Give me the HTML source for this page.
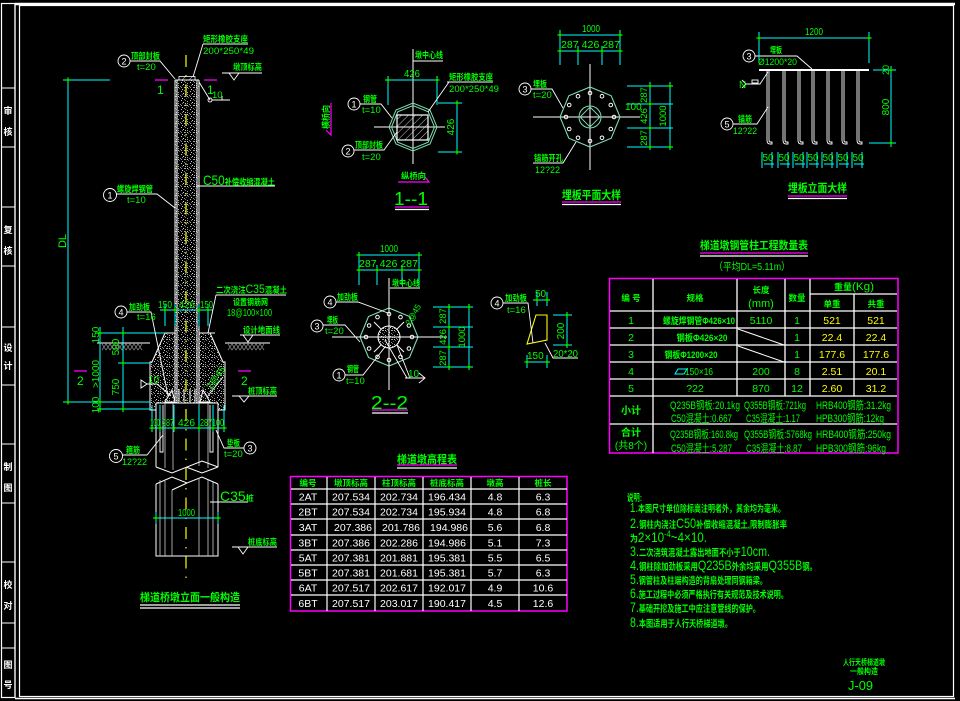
<!DOCTYPE html>
<html><head><meta charset="utf-8"><title>梯道桥墩立面一般构造</title>
<style>
html,body{margin:0;padding:0;background:#000;}
svg{display:block}
text{font-family:"Liberation Sans","Noto Sans CJK SC",sans-serif;}
.g{fill:#00ff00}
.w{fill:#ffffff}
.y{fill:#ffff00}
.b{font-weight:bold}
</style></head><body>
<svg width="960" height="701" viewBox="0 0 960 701" xmlns="http://www.w3.org/2000/svg" xmlns:xlink="http://www.w3.org/1999/xlink">
<defs>
<pattern id="sp" width="9" height="9" patternUnits="userSpaceOnUse">
<rect x="1" y="1" width="1" height="1" fill="#bbb"/>
<rect x="5" y="1" width="1" height="1" fill="#777"/>
<rect x="3" y="3" width="1" height="1" fill="#ddd"/>
<rect x="7" y="4" width="1" height="1" fill="#999"/>
<rect x="0" y="5" width="1" height="1" fill="#888"/>
<rect x="4" y="6" width="2" height="1" fill="#aaa"/>
<rect x="8" y="7" width="1" height="1" fill="#666"/>
<rect x="2" y="8" width="1" height="1" fill="#ccc"/>
<rect x="6" y="8" width="1" height="1" fill="#555"/>
<rect x="7" y="2" width="1" height="1" fill="#aaa"/>
<rect x="2" y="4" width="1" height="1" fill="#777"/>
<rect x="5" y="4" width="1" height="1" fill="#bbb"/>
<rect x="1" y="6" width="1" height="1" fill="#999"/>
<rect x="7" y="6" width="1" height="1" fill="#ccc"/>
<rect x="4" y="0" width="1" height="1" fill="#888"/>
</pattern>
<pattern id="ht" width="5" height="5" patternUnits="userSpaceOnUse" patternTransform="rotate(45)">
<line x1="0" y1="0" x2="0" y2="5" stroke="#fff" stroke-width="0.8"/>
</pattern>
<path id="tk" d="M-2.5 0H2.5M0-2.5V2.5" stroke="#0f0" stroke-width="1.2"/>
</defs>

<!-- ===== FRAME ===== -->
<g stroke="#fff" fill="none">
<rect x="1.5" y="3.5" width="13.5" height="694" stroke-width="1.2"/>
<path d="M1 88H15M1 147H15M1 207H15M1 266H15M1 327H15M1 385H15M1 444H15M1 503H15M1 562H15M1 623H15M1 648H15" stroke-width="1"/>
<path d="M15 4H955" stroke-width="2.5"/>
<path d="M15 3V698" stroke-width="1.2"/>
<rect x="19.5" y="5.5" width="934" height="691" stroke-width="1.2"/>
<path d="M15 698.5H955" stroke-width="1.5"/>
</g>
<g class="w b" font-size="9" text-anchor="middle">
<text x="8" y="114">审</text><text x="8" y="135">核</text>
<text x="8" y="233">复</text><text x="8" y="254">核</text>
<text x="8" y="351">设</text><text x="8" y="369">计</text>
<text x="8" y="470">制</text><text x="8" y="491">图</text>
<text x="8" y="588">校</text><text x="8" y="609">对</text>
<text x="8" y="668">图</text><text x="8" y="688">号</text>
</g>

<!-- ===== PIER ELEVATION ===== -->
<path d="M97 343H150M225 343H270" stroke="#fff" stroke-width="1"/>
<path d="M102 344l4 6l4-6l4 6l4-6l4 6l4-6l4 6l4-6l4 6l4-6M102 350l4-6l4 6l4-6l4 6l4-6l4 6l4-6l4 6l4-6l4 6M228 344l4 6l4-6l4 6l4-6l4 6l4-6l4 6l4-6l4 6M228 350l4-6l4 6l4-6l4 6l4-6l4 6l4-6l4 6l4-6" stroke="#8a8a8a" fill="none" stroke-width="0.7"/>
<path d="M165 333 L152 362 L150 362 V410 H225 V362 L223 362 L210 333 Z" fill="#000" stroke="none"/>
<path d="M165 333 L152 362 L150 362 V410 H225 V362 L223 362 L210 333 Z" fill="url(#sp)" stroke="#fff" stroke-width="1"/>
<path d="M160 333H215" stroke="#fff" stroke-width="1"/>
<rect x="175" y="80" width="24" height="323" fill="#000"/>
<rect x="175" y="80" width="24" height="323" fill="url(#sp)"/>
<path d="M175 80V403M177 80V403M197 80V403M199 80V403M175 80H199" stroke="#fff" stroke-width="1" fill="none"/>
<rect x="179" y="76.5" width="16" height="3.5" fill="url(#ht)" stroke="#fff" stroke-width="0.8"/>
<path d="M165 402L172 390L175 402ZM200 402L203 390L210 402Z" fill="none" stroke="#fff" stroke-width="1"/>
<path d="M179 389V402M184 389V402M190 389V402M195 389V402" stroke="#fff" stroke-width="1"/>
<rect x="156" y="403" width="62" height="64" fill="#000" stroke="none"/>
<path d="M156 403H218M156 403V467M218 403V467" stroke="#fff" stroke-width="1" fill="none"/>
<path d="M173 403V470M199 403V466M165 403V468M208 403V468" stroke="#ccc" stroke-width="0.8"/>
<path d="M160 405V452H163V405M210 405V452H213V405" stroke="#fff" stroke-width="0.9" fill="none"/>
<path d="M156 467L172 473L202 461L218 467M186 467L202 473L218 467" stroke="#fff" stroke-width="1" fill="none"/>
<path d="M156 484L172 477L187 483L202 477L218 484M172 490L187 483" stroke="#fff" stroke-width="1" fill="none"/>
<path d="M156 484V556H218V484" stroke="#fff" stroke-width="1" fill="none"/>
<path d="M160 480V556M165 481V556M172 490V556M199 478V556M208 480V556M213 482V556" stroke="#ccc" stroke-width="0.8"/>
<path d="M186 55V583" stroke="#ffff00" stroke-width="1.2" stroke-dasharray="12 8 1.5 8"/>
<path d="M155 80H168M204 80H217" stroke="#ff00ff" stroke-width="1.2"/>
<text x="157" y="94" class="g" font-size="12">1</text>
<text x="207" y="94" class="g" font-size="12">1</text>
<path d="M74 371H87M238 371H251" stroke="#ff00ff" stroke-width="1.2"/>
<text x="77" y="385" class="g" font-size="12">2</text>
<text x="241" y="385" class="g" font-size="12">2</text>

<g stroke="#00ffff" stroke-width="1" fill="none">
<path d="M63 80H110M68 80V402M63 402H150M100 327V412M123 327V412M95 333H165M118 363H150M97 409H150"/>
<path d="M160 310H213M165 304V326M175 304V326M199 304V326M208 304V326"/>
<path d="M150 428H226M152 405V432M160 405V432M174 405V432M199 405V432M213 405V432M224 405V432"/>
<path d="M153 518H220M156 512V524M218 512V524"/>
</g>
<g>
<use xlink:href="#tk" x="68" y="80"/><use xlink:href="#tk" x="68" y="402"/>
<use xlink:href="#tk" x="100" y="333"/><use xlink:href="#tk" x="123" y="333"/>
<use xlink:href="#tk" x="100" y="402"/><use xlink:href="#tk" x="123" y="363"/>
<use xlink:href="#tk" x="100" y="409"/><use xlink:href="#tk" x="123" y="409"/>
<use xlink:href="#tk" x="165" y="310"/><use xlink:href="#tk" x="175" y="310"/>
<use xlink:href="#tk" x="199" y="310"/><use xlink:href="#tk" x="208" y="310"/>
<use xlink:href="#tk" x="152" y="428"/><use xlink:href="#tk" x="160" y="428"/>
<use xlink:href="#tk" x="174" y="428"/><use xlink:href="#tk" x="199" y="428"/>
<use xlink:href="#tk" x="213" y="428"/><use xlink:href="#tk" x="224" y="428"/>
<use xlink:href="#tk" x="156" y="518"/><use xlink:href="#tk" x="218" y="518"/>
</g>
<g class="g" font-size="11" text-anchor="middle">
<text transform="translate(66,241) rotate(-90)">DL</text>
<text transform="translate(99,335) rotate(-90)" font-size="10">150</text>
<text transform="translate(119,347) rotate(-90)" font-size="10">500</text>
<text transform="translate(99,374) rotate(-90)" font-size="10">&gt;1000</text>
<text transform="translate(119,387) rotate(-90)" font-size="10">750</text>
<text transform="translate(99,405) rotate(-90)" font-size="10">100</text>
</g>
<g class="g" font-size="10.5">
<text x="158" y="308" textLength="14" lengthAdjust="spacingAndGlyphs">150</text>
<text x="179" y="308" textLength="16" lengthAdjust="spacingAndGlyphs">426</text>
<text x="200" y="308" textLength="13" lengthAdjust="spacingAndGlyphs">150</text>
<text x="150" y="426" textLength="10" lengthAdjust="spacingAndGlyphs">100</text>
<text x="162" y="426" textLength="12" lengthAdjust="spacingAndGlyphs">287</text>
<text x="178" y="426" textLength="17" lengthAdjust="spacingAndGlyphs">426</text>
<text x="200" y="426" textLength="12" lengthAdjust="spacingAndGlyphs">287</text>
<text x="212" y="426" textLength="12" lengthAdjust="spacingAndGlyphs">100</text>
<text x="178" y="516" textLength="17" lengthAdjust="spacingAndGlyphs">1000</text>
</g>
<g stroke="#fff" stroke-width="0.9" fill="none">
<circle cx="124" cy="61" r="6"/>
<path d="M130 61H160L175 79"/>
<path d="M203 44H248M203 44L193 77"/>
<path d="M222 73H262M229 73L234 80L239 73"/>
<circle cx="210" cy="100" r="2"/>
<path d="M210 100L199 82M212 100H230M222 96V100H228"/>
<path d="M197 186H275"/>
<circle cx="110" cy="195" r="6.5"/>
<path d="M116 194H157L175 208"/>
<path d="M216 295H286M216 295L208 333"/>
<circle cx="121" cy="312" r="6"/>
<path d="M127 312H151L168 396"/>
<path d="M240 335H280M243 335L248 342L253 335"/>
<path d="M157 384H147M147 384L141 380V388Z"/>
<path d="M157 384L171 396"/>
<path d="M223 377L207 397"/>
<path d="M232 396H277M239 396L244 402L249 396"/>
<circle cx="116" cy="456" r="6.5"/>
<path d="M122 455H147L163 435"/>
<circle cx="250" cy="448" r="6"/>
<path d="M244 448H224L216 430"/>
<path d="M210 502H248"/>
<path d="M232 547H277M238 547L243 554L248 547"/>
<path d="M140 605H240M140 608H240" stroke-width="1.2"/>
</g>
<g class="w" font-size="9" text-anchor="middle">
<text x="124" y="64.5">2</text>
<text x="110" y="198.5">1</text>
<text x="121" y="315.5">4</text>
<text x="116" y="459.5">5</text>
<text x="250" y="451.5">3</text>
</g>
<g class="g b" font-size="8.5">
<text x="131" y="59" textLength="29" lengthAdjust="spacingAndGlyphs">顶部封板</text>
<text x="137" y="70" font-weight="normal" font-size="9.5">t=20</text>
<text x="203" y="42" textLength="45" lengthAdjust="spacingAndGlyphs">矩形橡胶支座</text>
<text x="203" y="54" font-weight="normal" font-size="9.5" textLength="51" lengthAdjust="spacingAndGlyphs">200*250*49</text>
<text x="233" y="70" textLength="29" lengthAdjust="spacingAndGlyphs">墩顶标高</text>
<text x="212" y="98" font-weight="normal" font-size="9.5">10</text>
<text x="203" y="185" font-weight="normal" textLength="72" lengthAdjust="spacingAndGlyphs"><tspan font-size="14">C50</tspan><tspan font-weight="bold">补偿收缩混凝土</tspan></text>
<text x="117" y="192" textLength="36" lengthAdjust="spacingAndGlyphs">螺旋焊钢管</text>
<text x="127" y="203" font-weight="normal" font-size="9.5">t=10</text>
<text x="216" y="293" textLength="71" lengthAdjust="spacingAndGlyphs">二次浇注<tspan font-weight="normal" font-size="12">C35</tspan>混凝土</text>
<text x="233" y="305" textLength="35" lengthAdjust="spacingAndGlyphs">设置钢筋网</text>
<text x="227" y="316" font-weight="normal" font-size="10" textLength="45" lengthAdjust="spacingAndGlyphs">18@100×100</text>
<text x="129" y="310" textLength="21" lengthAdjust="spacingAndGlyphs">加劲板</text>
<text x="137" y="320" font-weight="normal" font-size="9.5">t=16</text>
<text x="243" y="333" textLength="37" lengthAdjust="spacingAndGlyphs">设计地面线</text>
<text x="148" y="383" font-weight="normal" font-size="10">10</text>
<text transform="translate(211,390) rotate(-55)" font-weight="normal" font-size="9.5">2@45</text>
<text x="248" y="394" textLength="29" lengthAdjust="spacingAndGlyphs">桩顶标高</text>
<text x="126" y="453" textLength="14" lengthAdjust="spacingAndGlyphs">箍筋</text>
<text x="122" y="465" font-weight="normal" font-size="9.5" textLength="25" lengthAdjust="spacingAndGlyphs">12?22</text>
<text x="227" y="446" textLength="13" lengthAdjust="spacingAndGlyphs">垫板</text>
<text x="224" y="457" font-weight="normal" font-size="9.5">t=20</text>
<text x="220" y="501" font-weight="normal"><tspan font-size="14">C35</tspan><tspan font-weight="bold" font-size="8">桩</tspan></text>
<text x="248" y="545" textLength="29" lengthAdjust="spacingAndGlyphs">桩底标高</text>
<text x="140" y="601" font-size="11" textLength="100" lengthAdjust="spacingAndGlyphs">梯道桥墩立面一般构造</text>
</g>

<!-- ===== SECTION 1--1 ===== -->
<path d="M413 49V164M374 127H445" stroke="#fff" stroke-width="1"/>
<polygon points="437,127 430,144 413,151 396,144 389,127 396,110 413,103 430,110" fill="none" stroke="#7fdcb0" stroke-width="1"/>
<polygon points="434.5,127 428.2,142.2 413,148.5 397.8,142.2 391.5,127 397.8,111.8 413,105.5 428.2,111.8" fill="none" stroke="#7fdcb0" stroke-width="1"/>
<rect x="397" y="115" width="31" height="25" fill="url(#ht)" stroke="#fff" stroke-width="1.2"/>
<g stroke="#00ffff" stroke-width="1" fill="none">
<path d="M385 80H438M388 76V105M437 76V105M457 102V152M438 103H462M438 152H462"/>
</g>
<use xlink:href="#tk" x="388" y="80"/><use xlink:href="#tk" x="437" y="80"/>
<use xlink:href="#tk" x="457" y="103"/><use xlink:href="#tk" x="457" y="152"/>
<g stroke="#fff" stroke-width="0.9" fill="none">
<path d="M413 61H443"/>
<path d="M447 82H493M449 82L428 112"/>
<circle cx="354" cy="104" r="6"/>
<path d="M360 104H381L392 118"/>
<circle cx="348" cy="151" r="6"/>
<path d="M354 150H384L397 132"/>
<path d="M395 207H429" stroke="#ff00ff" stroke-width="1.2"/>
<path d="M395 209.5H429" stroke-width="1.2"/>
<path d="M331 103V135L326 130" stroke="#ff00ff" stroke-width="1.2"/>
<path d="M398 182H429L425 177" stroke="#ff00ff" stroke-width="1.2"/>
</g>
<g class="w" font-size="9" text-anchor="middle">
<text x="354" y="107.5">1</text><text x="348" y="154.5">2</text>
</g>
<g class="g b" font-size="8.5">
<text x="415" y="58" textLength="28" lengthAdjust="spacingAndGlyphs">墩中心线</text>
<text x="404" y="77" font-weight="normal" font-size="10" textLength="16" lengthAdjust="spacingAndGlyphs">426</text>
<text x="449" y="80" textLength="44" lengthAdjust="spacingAndGlyphs">矩形橡胶支座</text>
<text x="449" y="92" font-weight="normal" font-size="9.5" textLength="50" lengthAdjust="spacingAndGlyphs">200*250*49</text>
<text x="363" y="102" textLength="14" lengthAdjust="spacingAndGlyphs">钢管</text>
<text x="362" y="113" font-weight="normal" font-size="9.5">t=10</text>
<text x="355" y="148" textLength="28" lengthAdjust="spacingAndGlyphs">顶部封板</text>
<text x="362" y="160" font-weight="normal" font-size="9.5">t=20</text>
<text transform="translate(454,127) rotate(-90)" text-anchor="middle" font-weight="normal" font-size="10">426</text>
<text transform="translate(329,117) rotate(-90)" text-anchor="middle" textLength="24" lengthAdjust="spacingAndGlyphs">横桥向</text>
<text x="401" y="179" textLength="25" lengthAdjust="spacingAndGlyphs">纵桥向</text>
<text x="394" y="205" font-weight="normal" font-size="18" textLength="34" lengthAdjust="spacingAndGlyphs">1--1</text>
</g>

<!-- ===== 埋板平面大样 ===== -->
<path d="M533 117H640M590 64V170" stroke="#fff" stroke-width="1"/>
<polygon points="620,117 611.2,138.2 590,147 568.8,138.2 560,117 568.8,95.8 590,87 611.2,95.8" fill="none" stroke="#7fdcb0" stroke-width="1.1"/>
<circle cx="590" cy="117" r="11" fill="none" stroke="#7fdcb0" stroke-width="1"/>
<polygon points="590,107 600,117 590,127 580,117" fill="none" stroke="#7fdcb0" stroke-width="0.9"/>
<g fill="none" stroke="#fff" stroke-width="1">
<circle cx="614" cy="117" r="1.8"/><circle cx="610.8" cy="129" r="1.8"/><circle cx="602" cy="137.8" r="1.8"/>
<circle cx="590" cy="141" r="1.8"/><circle cx="578" cy="137.8" r="1.8"/><circle cx="569.2" cy="129" r="1.8"/>
<circle cx="566" cy="117" r="1.8"/><circle cx="569.2" cy="105" r="1.8"/><circle cx="578" cy="96.2" r="1.8"/>
<circle cx="590" cy="93" r="1.8"/><circle cx="602" cy="96.2" r="1.8"/><circle cx="610.8" cy="105" r="1.8"/>
</g>
<g stroke="#00ffff" stroke-width="1" fill="none">
<path d="M560 35H622M560 51H621M560 30V65M578 46V65M602 46V65M620 30V65"/>
<path d="M627 86H673M627 104H673M627 128H673M627 147H673M650 82V150M670 82V150"/>
</g>
<use xlink:href="#tk" x="560" y="35"/><use xlink:href="#tk" x="620" y="35"/>
<use xlink:href="#tk" x="560" y="51"/><use xlink:href="#tk" x="578" y="51"/><use xlink:href="#tk" x="602" y="51"/><use xlink:href="#tk" x="620" y="51"/>
<use xlink:href="#tk" x="650" y="86"/><use xlink:href="#tk" x="650" y="104"/><use xlink:href="#tk" x="650" y="128"/><use xlink:href="#tk" x="650" y="147"/>
<use xlink:href="#tk" x="670" y="86"/><use xlink:href="#tk" x="670" y="147"/>
<g stroke="#fff" stroke-width="0.9" fill="none">
<circle cx="525" cy="89" r="6"/>
<path d="M531 89H552L563 108"/>
<path d="M533 163H563L576 142"/>
<path d="M562 202H621" stroke="#ff00ff" stroke-width="1.2"/>
<path d="M562 204.5H621" stroke-width="1.2"/>
</g>
<text x="525" y="92.5" class="w" font-size="9" text-anchor="middle">3</text>
<g class="g b" font-size="8.5">
<text x="582" y="32" font-weight="normal" font-size="10" textLength="18" lengthAdjust="spacingAndGlyphs">1000</text>
<text x="561" y="48" font-weight="normal" font-size="10" textLength="59" lengthAdjust="spacingAndGlyphs">287 426 287</text>
<text x="533" y="87" textLength="14" lengthAdjust="spacingAndGlyphs">埋板</text>
<text x="533" y="98" font-weight="normal" font-size="9.5">t=20</text>
<text x="534" y="161" textLength="29" lengthAdjust="spacingAndGlyphs">锚筋开孔</text>
<text x="535" y="173" font-weight="normal" font-size="9.5" textLength="25" lengthAdjust="spacingAndGlyphs">12?22</text>
<text x="625" y="110" font-weight="normal" font-size="10">100</text>
<text transform="translate(647,95) rotate(-90)" text-anchor="middle" font-weight="normal" font-size="9.5">287</text>
<text transform="translate(647,116) rotate(-90)" text-anchor="middle" font-weight="normal" font-size="9.5">426</text>
<text transform="translate(647,138) rotate(-90)" text-anchor="middle" font-weight="normal" font-size="9.5">287</text>
<text transform="translate(666,116) rotate(-90)" text-anchor="middle" font-weight="normal" font-size="9.5">1000</text>
<text x="562" y="199" font-size="11.5" textLength="59" lengthAdjust="spacingAndGlyphs">埋板平面大样</text>
</g>

<!-- ===== 埋板立面大样 ===== -->
<path d="M759 70H869" stroke="#fff" stroke-width="2"/>
<g stroke="#fff" stroke-width="0.9" fill="none">
<path d="M767 71V140Q767 144 770 144H772V142H770Q769 142 769 140V71"/>
<path d="M783 71V140Q783 144 786 144H788V142H786Q785 142 785 140V71"/>
<path d="M798 71V140Q798 144 801 144H803V142H801Q800 142 800 140V71"/>
<path d="M812 71V140Q812 144 815 144H817V142H815Q814 142 814 140V71"/>
<path d="M827 71V140Q827 144 830 144H832V142H830Q829 142 829 140V71"/>
<path d="M842 71V140Q842 144 845 144H847V142H845Q844 142 844 140V71"/>
<path d="M857 71V140Q857 144 860 144H862V142H860Q859 142 859 140V71"/>
<circle cx="749" cy="56" r="6"/>
<path d="M755 56H797L812 69"/>
<path d="M746 84L742 80M746 84L742 88M746 84H760L768 72"/>
<rect x="752" y="80" width="6" height="3"/>
<circle cx="727" cy="124" r="6"/>
<path d="M733 124H757L768 107"/>
<path d="M788 196H847" stroke="#ff00ff" stroke-width="1.2"/>
<path d="M788 198.5H847" stroke-width="1.2"/>
</g>
<g stroke="#00ffff" stroke-width="1" fill="none">
<path d="M759 38H870M759 32V63M869 32V63M873 70H896M869 143H896M891 66V147"/>
<path d="M764 164H774M762 152V168M772 152V168M780 164H790M778 152V168M788 152V168M795 164H805M793 152V168M803 152V168M809 164H819M807 152V168M817 152V168M824 164H834M822 152V168M832 152V168M839 164H849M837 152V168M847 152V168M854 164H864M852 152V168M862 152V168"/>
</g>
<use xlink:href="#tk" x="759" y="38"/><use xlink:href="#tk" x="869" y="38"/>
<use xlink:href="#tk" x="891" y="70"/><use xlink:href="#tk" x="891" y="143"/>
<g class="w" font-size="9" text-anchor="middle">
<text x="749" y="59.5">3</text><text x="727" y="127.5">5</text>
</g>
<g class="g b" font-size="8.5">
<text x="805" y="35" font-weight="normal" font-size="10" textLength="18" lengthAdjust="spacingAndGlyphs">1200</text>
<text x="770" y="53" textLength="12" lengthAdjust="spacingAndGlyphs">埋板</text>
<text x="758" y="65" font-weight="normal" font-size="9.5" textLength="39" lengthAdjust="spacingAndGlyphs">Ø1200*20</text>
<text x="739" y="88" font-weight="normal" font-size="10">N</text>
<text x="738" y="122" textLength="14" lengthAdjust="spacingAndGlyphs">锚筋</text>
<text x="733" y="134" font-weight="normal" font-size="9.5" textLength="24" lengthAdjust="spacingAndGlyphs">12?22</text>
<text transform="translate(889,70) rotate(-90)" text-anchor="middle" font-weight="normal" font-size="9">20</text>
<text transform="translate(889,107) rotate(-90)" text-anchor="middle" font-weight="normal" font-size="10">800</text>
<g font-weight="normal" font-size="10" text-anchor="middle">
<text x="768" y="161">50</text><text x="784" y="161">50</text><text x="799" y="161">50</text><text x="813" y="161">50</text><text x="828" y="161">50</text><text x="843" y="161">50</text><text x="858" y="161">50</text>
</g>
<text x="788" y="192" font-size="11.5" textLength="59" lengthAdjust="spacingAndGlyphs">埋板立面大样</text>
</g>

<!-- ===== SECTION 2--2 ===== -->
<polygon points="418,337 409.5,357.5 389,366 368.5,357.5 360,337 368.5,316.5 389,308 409.5,316.5" fill="none" stroke="#7fdcb0" stroke-width="1.1"/>
<circle cx="389" cy="337" r="11" fill="#000"/>
<circle cx="389" cy="337" r="11" fill="url(#sp)" stroke="#fff" stroke-width="1"/>
<path d="M389 278V390M332 337H447" stroke="#fff" stroke-width="1"/>
<path d="M396.8 344.8L404 352M381.2 344.8L374 352M381.2 329.2L374 322M396.8 329.2L404 322M389 326V315M389 348V359M378 337H367M400 337H411" stroke="#fff" stroke-width="1"/>
<g fill="none" stroke="#fff" stroke-width="1">
<circle cx="412" cy="337" r="1.8"/><circle cx="408.9" cy="348.5" r="1.8"/><circle cx="400.5" cy="356.9" r="1.8"/>
<circle cx="389" cy="360" r="1.8"/><circle cx="377.5" cy="356.9" r="1.8"/><circle cx="369.1" cy="348.5" r="1.8"/>
<circle cx="366" cy="337" r="1.8"/><circle cx="369.1" cy="325.5" r="1.8"/><circle cx="377.5" cy="317.1" r="1.8"/>
<circle cx="389" cy="314" r="1.8"/><circle cx="400.5" cy="317.1" r="1.8"/><circle cx="408.9" cy="325.5" r="1.8"/>
</g>
<g stroke="#00ffff" stroke-width="1" fill="none">
<path d="M357 255H422M359 270H419M359 252V285M377 265V285M402 265V285M419 252V285"/>
<path d="M433 307H473M433 327H473M433 347H473M433 367H473M449 304V370M469 304V370"/>
</g>
<use xlink:href="#tk" x="359" y="255"/><use xlink:href="#tk" x="419" y="255"/>
<use xlink:href="#tk" x="359" y="270"/><use xlink:href="#tk" x="377" y="270"/><use xlink:href="#tk" x="402" y="270"/><use xlink:href="#tk" x="419" y="270"/>
<use xlink:href="#tk" x="449" y="307"/><use xlink:href="#tk" x="449" y="327"/><use xlink:href="#tk" x="449" y="347"/><use xlink:href="#tk" x="449" y="367"/>
<use xlink:href="#tk" x="469" y="307"/><use xlink:href="#tk" x="469" y="367"/>
<g stroke="#fff" stroke-width="0.9" fill="none">
<path d="M390 288H420"/>
<circle cx="330" cy="302" r="6"/>
<path d="M336 302H358L388 313"/>
<circle cx="317" cy="326" r="6"/>
<path d="M323 325H345L360 342"/>
<circle cx="339" cy="375" r="6"/>
<path d="M345 375H363L385 347"/>
<path d="M385 340L407 378M397 345L410 378M405 378H425M419 373L425 378L419 383"/>
<path d="M372 410H408" stroke="#ff00ff" stroke-width="1.2"/>
<path d="M372 413H408" stroke-width="1.2"/>
</g>
<g class="w" font-size="9" text-anchor="middle">
<text x="330" y="305.5">4</text><text x="317" y="329.5">3</text><text x="339" y="378.5">1</text>
</g>
<g class="g b" font-size="8.5">
<text x="380" y="252" font-weight="normal" font-size="10" textLength="18" lengthAdjust="spacingAndGlyphs">1000</text>
<text x="359" y="267" font-weight="normal" font-size="10" textLength="59" lengthAdjust="spacingAndGlyphs">287 426 287</text>
<text x="392" y="286" textLength="28" lengthAdjust="spacingAndGlyphs">墩中心线</text>
<text x="337" y="300" textLength="21" lengthAdjust="spacingAndGlyphs">加劲板</text>
<text x="327" y="323" textLength="11" lengthAdjust="spacingAndGlyphs">埋板</text>
<text x="325" y="334" font-weight="normal" font-size="9.5">t=20</text>
<text x="347" y="372" textLength="12" lengthAdjust="spacingAndGlyphs">钢管</text>
<text x="346" y="384" font-weight="normal" font-size="9.5">t=10</text>
<text x="408" y="377" font-weight="normal" font-size="10">10</text>
<text transform="translate(410,326) rotate(-60)" font-weight="normal" font-size="8.5">2@45</text>
<text transform="translate(446,316) rotate(-90)" text-anchor="middle" font-weight="normal" font-size="9.5">287</text>
<text transform="translate(446,337) rotate(-90)" text-anchor="middle" font-weight="normal" font-size="9.5">426</text>
<text transform="translate(446,358) rotate(-90)" text-anchor="middle" font-weight="normal" font-size="9.5">287</text>
<text transform="translate(465,337) rotate(-90)" text-anchor="middle" font-weight="normal" font-size="9.5">1000</text>
<text x="371" y="409" font-weight="normal" font-size="18" textLength="37" lengthAdjust="spacingAndGlyphs">2--2</text>
</g>

<!-- ===== stiffener detail ===== -->
<polygon points="536,315 547,315 547,340 527,344" fill="none" stroke="#ffff00" stroke-width="1.1"/>
<g stroke="#00ffff" stroke-width="1" fill="none">
<path d="M533 300H550M537 292V306M547 292V306M553 315H572M553 345H572M567 312V348M525 362H550M527 355V368M547 355V368"/>
</g>
<use xlink:href="#tk" x="537" y="300"/><use xlink:href="#tk" x="547" y="300"/>
<use xlink:href="#tk" x="567" y="315"/><use xlink:href="#tk" x="567" y="345"/>
<use xlink:href="#tk" x="527" y="362"/><use xlink:href="#tk" x="547" y="362"/>
<g stroke="#fff" stroke-width="0.9" fill="none">
<circle cx="497" cy="303" r="6"/>
<path d="M503 303H528L533 343"/>
<path d="M578 358H553L545 343"/>
</g>
<text x="497" y="306.5" class="w" font-size="9" text-anchor="middle">4</text>
<g class="g b" font-size="8.5">
<text x="505" y="301" textLength="22" lengthAdjust="spacingAndGlyphs">加劲板</text>
<text x="507" y="313" font-weight="normal" font-size="9.5">t=16</text>
<text x="535" y="297" font-weight="normal" font-size="10">50</text>
<text transform="translate(564,331) rotate(-90)" text-anchor="middle" font-weight="normal" font-size="10">200</text>
<text x="527" y="359" font-weight="normal" font-size="10">150</text>
<text x="553" y="357" font-weight="normal" font-size="10" textLength="25" lengthAdjust="spacingAndGlyphs">20*20</text>
</g>

<!-- ===== QUANTITY TABLE ===== -->
<g class="g b" font-size="9.5">
<text x="700" y="249" font-size="11" textLength="108" lengthAdjust="spacingAndGlyphs">梯道墩钢管柱工程数量表</text>
<text x="714" y="270" font-weight="normal" font-size="10.5" textLength="76" lengthAdjust="spacingAndGlyphs">（平均DL=5.11m）</text>
</g>
<path d="M700 253H808" stroke="#ff00ff" stroke-width="1.2"/>
<path d="M700 256H808" stroke="#fff" stroke-width="1.2"/>
<rect x="609.5" y="278.5" width="288.5" height="174.5" fill="none" stroke="#ff00ff" stroke-width="1.5"/>
<g stroke="#fff" stroke-width="1.3" fill="none">
<path d="M653 279V453M737 279V396M785 279V396M810 279V396M854 294V396M810 294H897"/>
<path d="M610 311H897M610 328H897M610 345H897M610 362H897M610 379H897M610 396H897M610 424H897"/>
<path d="M738 329L784 345M738 346L784 362" stroke-width="1"/>
</g>
<g class="g b" font-size="8.5" text-anchor="middle">
<text x="631" y="301">编 号</text>
<text x="695" y="301">规格</text>
<text x="761" y="293">长度</text>
<text x="761" y="307" font-weight="normal" font-size="11">(mm)</text>
<text x="797" y="301">数量</text>
<text x="854" y="290" textLength="40" lengthAdjust="spacingAndGlyphs">重量<tspan font-weight="normal" font-size="11">(Kg)</tspan></text>
<text x="832" y="307">单重</text>
<text x="876" y="307">共重</text>
</g>
<g class="g" font-size="10.5" text-anchor="middle">
<text x="631" y="324">1</text><text x="631" y="341">2</text><text x="631" y="358">3</text><text x="631" y="375">4</text><text x="631" y="392">5</text>
<text x="699" y="324" font-size="9" font-weight="bold" textLength="72" lengthAdjust="spacingAndGlyphs">螺旋焊钢管Φ426×10</text>
<text x="702" y="341" font-size="9" font-weight="bold" textLength="51" lengthAdjust="spacingAndGlyphs">钢板Φ426×20</text>
<text x="691" y="358" font-size="9" font-weight="bold" textLength="53" lengthAdjust="spacingAndGlyphs">钢板Φ1200×20</text>
<text x="699" y="375" textLength="28" lengthAdjust="spacingAndGlyphs">150×16</text>
<text x="695" y="392">?22</text>
<text x="761" y="324">5110</text><text x="761" y="375">200</text><text x="761" y="392">870</text>
<text x="797" y="324">1</text><text x="797" y="341">1</text><text x="797" y="358">1</text><text x="797" y="375">8</text><text x="797" y="392">12</text>
</g>
<path d="M675 374L678 369H687L684 374Z" fill="none" stroke="#00ffff" stroke-width="1"/>
<g class="y" font-size="10.5" text-anchor="middle">
<text x="832" y="324">521</text><text x="876" y="324">521</text>
<text x="832" y="341">22.4</text><text x="876" y="341">22.4</text>
<text x="832" y="358">177.6</text><text x="876" y="358">177.6</text>
<text x="832" y="375">2.51</text><text x="876" y="375">20.1</text>
<text x="832" y="392">2.60</text><text x="876" y="392">31.2</text>
</g>
<g class="g" font-size="11">
<text x="631" y="414" text-anchor="middle" font-weight="bold" font-size="10">小计</text>
<text x="631" y="436" text-anchor="middle" font-weight="bold" font-size="10">合计</text>
<text x="631" y="449" text-anchor="middle" font-size="10">(共8个)</text>
<text x="670" y="409" textLength="70" lengthAdjust="spacingAndGlyphs">Q235B钢板:20.1kg</text>
<text x="744" y="409" textLength="62" lengthAdjust="spacingAndGlyphs">Q355B钢板:721kg</text>
<text x="816" y="409" textLength="75" lengthAdjust="spacingAndGlyphs">HRB400钢筋:31.2kg</text>
<text x="671" y="422" textLength="61" lengthAdjust="spacingAndGlyphs">C50混凝土:0.667</text>
<text x="746" y="422" textLength="54" lengthAdjust="spacingAndGlyphs">C35混凝土:1.17</text>
<text x="816" y="422" textLength="68" lengthAdjust="spacingAndGlyphs">HPB300钢筋:12kg</text>
<text x="670" y="438" textLength="68" lengthAdjust="spacingAndGlyphs">Q235B钢板:160.8kg</text>
<text x="744" y="438" textLength="68" lengthAdjust="spacingAndGlyphs">Q355B钢板:5768kg</text>
<text x="816" y="438" textLength="75" lengthAdjust="spacingAndGlyphs">HRB400钢筋:250kg</text>
<text x="671" y="452" textLength="61" lengthAdjust="spacingAndGlyphs">C50混凝土:5.287</text>
<text x="746" y="452" textLength="56" lengthAdjust="spacingAndGlyphs">C35混凝土:8.87</text>
<text x="816" y="452" textLength="70" lengthAdjust="spacingAndGlyphs">HPB300钢筋:96kg</text>
</g>

<!-- ===== ELEVATION TABLE ===== -->
<text x="397" y="463" class="g b" font-size="11" textLength="60" lengthAdjust="spacingAndGlyphs">梯道墩高程表</text>
<path d="M397 465H457" stroke="#ff00ff" stroke-width="1.2"/>
<path d="M397 468H457" stroke="#fff" stroke-width="1.2"/>
<rect x="290.5" y="476.5" width="276.5" height="134.5" fill="none" stroke="#ff00ff" stroke-width="1.5"/>
<g stroke="#fff" stroke-width="1.2" fill="none">
<path d="M327 477V611M375 477V611M423 477V611M471 477V611M519 477V611"/>
<path d="M291 489H567M291 504H567M291 519H567M291 535H567M291 550H567M291 565H567M291 580H567M291 595H567"/>
</g>
<g class="g b" font-size="8.5" text-anchor="middle">
<text x="308" y="486">编号</text><text x="351" y="486">墩顶标高</text><text x="399" y="486">柱顶标高</text>
<text x="447" y="486">桩底标高</text><text x="495" y="486">墩高</text><text x="543" y="486">桩长</text>
</g>
<g class="w" font-size="10.5" text-anchor="middle">
<text x="308" y="500.5">2AT</text><text x="351" y="500.5">207.534</text><text x="399" y="500.5">202.734</text><text x="447" y="500.5">196.434</text><text x="495" y="500.5">4.8</text><text x="543" y="500.5">6.3</text>
<text x="308" y="515.5">2BT</text><text x="351" y="515.5">207.534</text><text x="399" y="515.5">202.734</text><text x="447" y="515.5">195.934</text><text x="495" y="515.5">4.8</text><text x="543" y="515.5">6.8</text>
<text x="308" y="531">3AT</text><text x="353" y="531">207.386</text><text x="401" y="531">201.786</text><text x="449" y="531">194.986</text><text x="495" y="531">5.6</text><text x="543" y="531">6.8</text>
<text x="308" y="546.5">3BT</text><text x="351" y="546.5">207.386</text><text x="399" y="546.5">202.286</text><text x="447" y="546.5">194.986</text><text x="495" y="546.5">5.1</text><text x="543" y="546.5">7.3</text>
<text x="308" y="561.5">5AT</text><text x="351" y="561.5">207.381</text><text x="399" y="561.5">201.881</text><text x="447" y="561.5">195.381</text><text x="495" y="561.5">5.5</text><text x="543" y="561.5">6.5</text>
<text x="308" y="576.5">5BT</text><text x="351" y="576.5">207.381</text><text x="399" y="576.5">201.681</text><text x="447" y="576.5">195.381</text><text x="495" y="576.5">5.7</text><text x="543" y="576.5">6.3</text>
<text x="308" y="591.5">6AT</text><text x="351" y="591.5">207.517</text><text x="399" y="591.5">202.617</text><text x="447" y="591.5">192.017</text><text x="495" y="591.5">4.9</text><text x="543" y="591.5">10.6</text>
<text x="308" y="607">6BT</text><text x="351" y="607">207.517</text><text x="399" y="607">203.017</text><text x="447" y="607">190.417</text><text x="495" y="607">4.5</text><text x="543" y="607">12.6</text>
</g>

<!-- ===== NOTES ===== -->
<g class="g" font-size="9.5">
<text x="627" y="501" font-weight="bold" textLength="15" lengthAdjust="spacingAndGlyphs">说明:</text>
<text x="630" y="512" textLength="155" lengthAdjust="spacingAndGlyphs"><tspan font-size="13">1.</tspan><tspan font-weight="bold">本图尺寸单位除标高注明者外，其余均为毫米。</tspan></text>
<text x="630" y="528" textLength="157" lengthAdjust="spacingAndGlyphs"><tspan font-size="14">2.</tspan><tspan font-weight="bold">钢柱内浇注</tspan><tspan font-size="14">C50</tspan><tspan font-weight="bold">补偿收缩混凝土,限制膨胀率</tspan></text>
<text x="630" y="542" textLength="77" lengthAdjust="spacingAndGlyphs"><tspan font-weight="bold">为</tspan><tspan font-size="14">2×10</tspan><tspan font-size="9" dy="-5">-4</tspan><tspan font-size="14" dy="5">~4×10.</tspan></text>
<text x="630" y="556" textLength="140" lengthAdjust="spacingAndGlyphs"><tspan font-size="14">3.</tspan><tspan font-weight="bold">二次浇筑混凝土露出地面不小于</tspan><tspan font-size="14">10cm.</tspan></text>
<text x="630" y="570" textLength="187" lengthAdjust="spacingAndGlyphs"><tspan font-size="14">4.</tspan><tspan font-weight="bold">钢柱除加劲板采用</tspan><tspan font-size="14">Q235B</tspan><tspan font-weight="bold">外余均采用</tspan><tspan font-size="14">Q355B</tspan><tspan font-weight="bold">钢。</tspan></text>
<text x="630" y="584" textLength="137" lengthAdjust="spacingAndGlyphs"><tspan font-size="14">5.</tspan><tspan font-weight="bold">钢管柱及柱端构造的背扇处理同钢箱梁。</tspan></text>
<text x="630" y="598" textLength="158" lengthAdjust="spacingAndGlyphs"><tspan font-size="14">6.</tspan><tspan font-weight="bold">施工过程中必须严格执行有关规范及技术说明。</tspan></text>
<text x="630" y="612" textLength="130" lengthAdjust="spacingAndGlyphs"><tspan font-size="14">7.</tspan><tspan font-weight="bold">基础开挖及施工中应注意管线的保护。</tspan></text>
<text x="630" y="627" textLength="102" lengthAdjust="spacingAndGlyphs"><tspan font-size="14">8.</tspan><tspan font-weight="bold">本图适用于人行天桥梯道墩。</tspan></text>
</g>

<!-- ===== TITLE BLOCK ===== -->
<g class="g b" font-size="8" text-anchor="middle">
<text x="864" y="665" textLength="42" lengthAdjust="spacingAndGlyphs">人行天桥梯道墩</text>
<text x="864" y="674" textLength="28" lengthAdjust="spacingAndGlyphs">一般构造</text>
</g>
<text x="848" y="690" class="g" font-size="13" textLength="25" lengthAdjust="spacingAndGlyphs">J-09</text>
</svg>
</body></html>
